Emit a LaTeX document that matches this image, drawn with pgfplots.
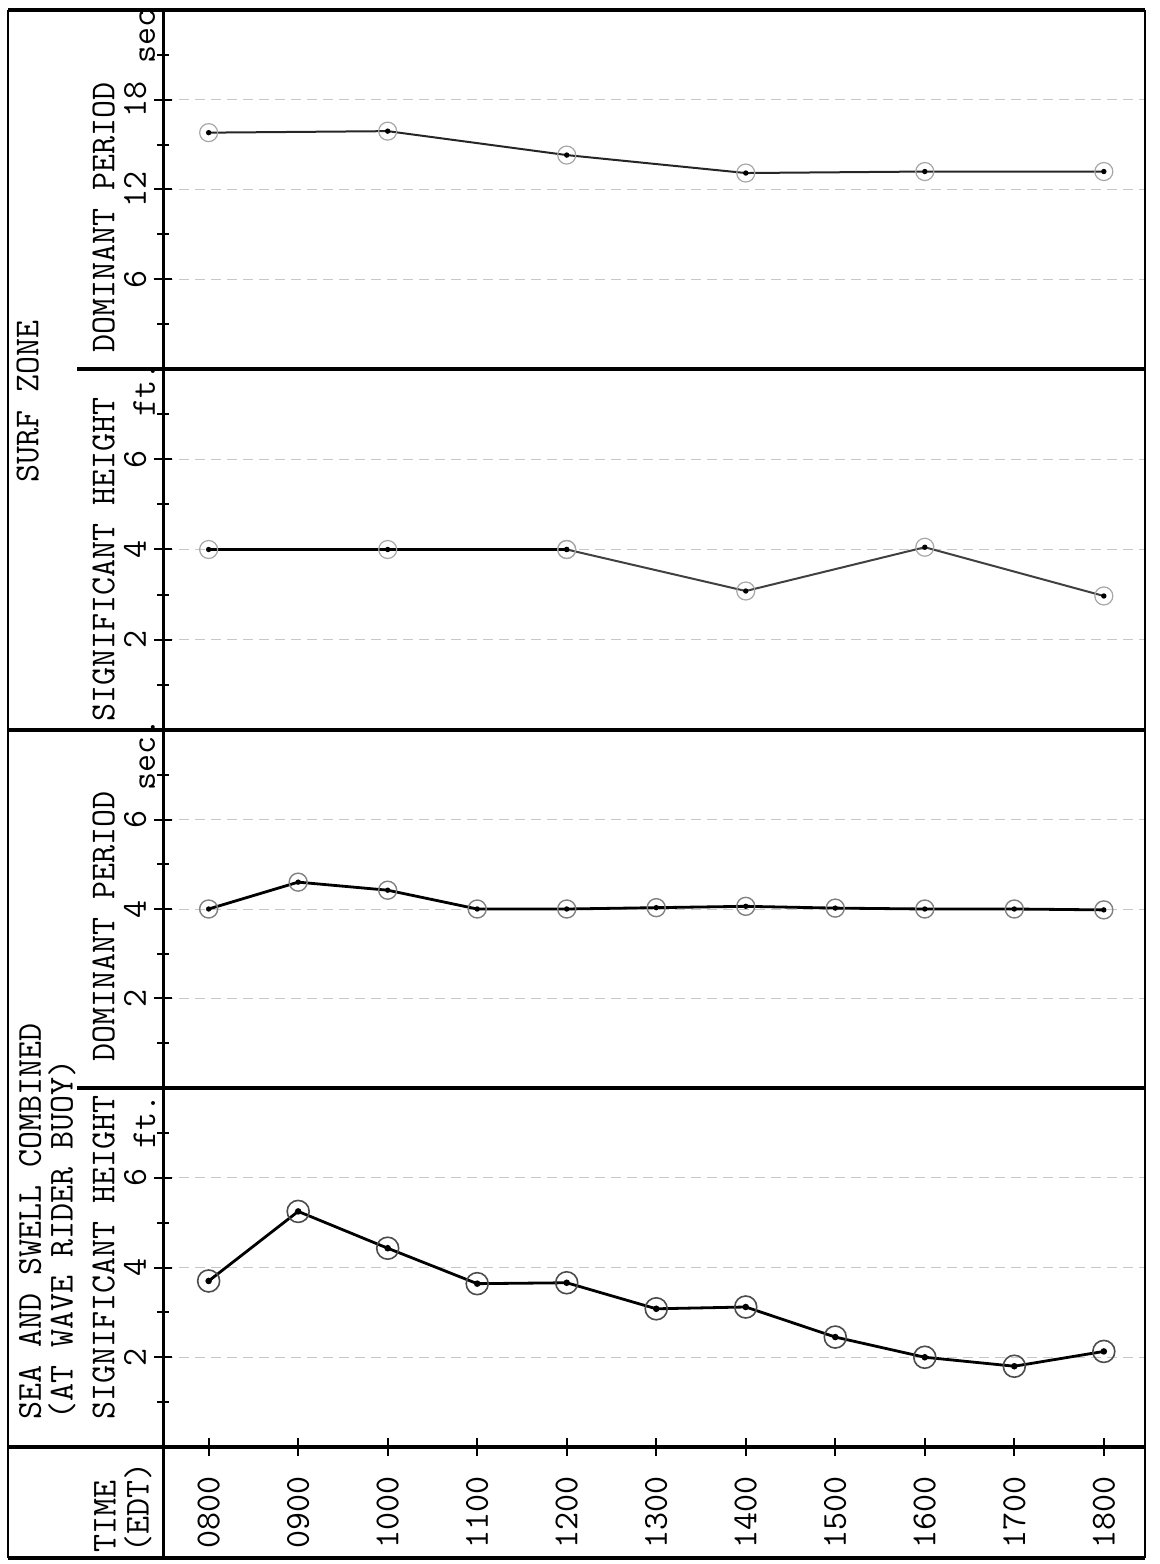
\documentclass[border=0pt]{standalone}
\usepackage{fontspec}
\usepackage{pgfplots}
\pgfplotsset{compat=1.18}

% typewriter face used for every label
\newcommand{\tw}{\fontsize{17.5}{20}\selectfont\ttfamily\addfontfeatures{FakeBold=1.2}}

% open circle with a dot in the middle
\pgfdeclareplotmark{ring}{%
  \pgfpathcircle{\pgfpointorigin}{\pgfplotmarksize}%
  \pgfusepathqstroke
  \pgfpathcircle{\pgfpointorigin}{0.3\pgfplotmarksize}%
  \pgfusepathqfill}

\pgfplotsset{
  panel/.style={
    scale only axis, width=491pt,
    xmin=7.49, xmax=18.46, ymin=0,
    axis y line*=left,
    axis line style={line width=1.5pt},
    tick align=center, major tick length=9pt, minor tick length=6pt,
    every tick/.style={black, line width=1pt},
    /pgf/number format/assume math mode=true,
    tick label style={font=\tw},
    yticklabel style={rotate=90, anchor=base, inner sep=0pt},
    yticklabel shift=4pt,
    ylabel style={font=\tw, anchor=base west, inner sep=0pt},
    ymajorgrids,
    major grid style={black!22, dash pattern=on 5pt off 3pt, line width=0.5pt},
    extra y tick style={major tick length=0pt, grid=none},
    clip=false,
  },
}

\begin{document}
\begin{tikzpicture}
\useasboundingbox (0pt,0pt) rectangle (580pt,782pt);

% surf zone, dominant period
\begin{axis}[panel, axis x line=none, at={(81.5pt,597.5pt)}, anchor=south west, height=179.5pt,
  ymax=24, ytick={6,12,18}, minor ytick={3,9,15,21},
  extra y ticks={22.2}, extra y tick labels={sec},
  ylabel={DOMINANT PERIOD},
  ylabel style={at={(axis description cs:-0.0494,0.045)}}]
\addplot[black!85, line width=1pt, mark=ring, mark size=4.5pt,
  mark options={draw=black!35, fill=black, line width=0.6pt}]
  coordinates {(8,15.8)(10,15.9)(12,14.3)(14,13.1)(16,13.2)(18,13.2)};
\end{axis}

% surf zone, significant height
\begin{axis}[panel, axis x line=none, at={(81.5pt,417pt)}, anchor=south west, height=180.5pt,
  ymax=8, ytick={2,4,6}, minor ytick={1,3,5,7},
  extra y ticks={7.55}, extra y tick labels={ft.},
  ylabel={SIGNIFICANT HEIGHT},
  ylabel style={at={(axis description cs:-0.0494,0.022)}}]
\addplot[black, line width=1.6pt, mark=ring, mark size=4.5pt,
  mark options={draw=black!35, fill=black, line width=0.6pt}]
  coordinates {(8,4.0)(10,4.0)(12,4.0)};
\addplot[black!75, line width=1pt, mark=ring, mark size=4.5pt,
  mark options={draw=black!35, fill=black, line width=0.6pt}]
  coordinates {(12,4.0)(14,3.08)(16,4.05)(18,2.97)};
\end{axis}

% sea and swell, dominant period
\begin{axis}[panel, axis x line=none, at={(81.5pt,238pt)}, anchor=south west, height=179pt,
  ymax=8, ytick={2,4,6}, minor ytick={1,3,5,7},
  extra y ticks={7.45}, extra y tick labels={sec.},
  ylabel={DOMINANT PERIOD},
  ylabel style={at={(axis description cs:-0.0494,0.073)}}]
\addplot[black, line width=1.4pt, mark=ring, mark size=4.5pt,
  mark options={draw=black!50, fill=black, line width=0.7pt}]
  coordinates {(8,4.0)(9,4.6)(10,4.42)(11,4.0)(12,4.0)(13,4.03)(14,4.06)
               (15,4.02)(16,4.0)(17,4.0)(18,3.98)};
\end{axis}

% sea and swell, significant height, with the time axis
\begin{axis}[panel, at={(81.5pt,58.5pt)}, anchor=south west, height=179.5pt,
  ymax=8, ytick={2,4,6}, minor ytick={1,3,5,7},
  extra y ticks={7.25}, extra y tick labels={ft.},
  axis x line*=bottom,
  xtick={8,...,18},
  xticklabels={0800,0900,1000,1100,1200,1300,1400,1500,1600,1700,1800},
  xticklabel style={rotate=90, anchor=east, inner sep=0pt},
  xticklabel shift=10pt,
  ylabel={SIGNIFICANT HEIGHT},
  ylabel style={at={(axis description cs:-0.0494,0.075)}}]
\addplot[black, line width=1.4pt, mark=ring, mark size=5.5pt,
  mark options={draw=black!70, fill=black, line width=0.8pt}]
  coordinates {(8,3.7)(9,5.25)(10,4.43)(11,3.64)(12,3.66)(13,3.08)(14,3.12)
               (15,2.45)(16,2.0)(17,1.8)(18,2.13)};
\end{axis}

% frame of the form
\draw[line width=0.8pt] (4pt,777pt) -- (4pt,3pt);
\draw[line width=0.8pt] (572.5pt,777pt) -- (572.5pt,3pt);
\draw[line width=1.6pt] (4pt,777pt) -- (572.5pt,777pt);
\draw[line width=1.6pt] (4pt,3pt) -- (572.5pt,3pt);
\draw[line width=2pt] (38.5pt,597.5pt) -- (572.5pt,597.5pt);
\draw[line width=2pt] (4pt,417pt) -- (572.5pt,417pt);
\draw[line width=2pt] (38.5pt,238pt) -- (572.5pt,238pt);
\draw[line width=2pt] (4pt,58.5pt) -- (572.5pt,58.5pt);
\draw[line width=1.5pt] (81.5pt,777pt) -- (81.5pt,3pt);

% headings in the left column
\begin{scope}[every node/.style={font=\tw, rotate=90, anchor=base west, inner sep=0pt}]
\node at (19.25pt,540.5pt) {SURF ZONE};
\node at (20.5pt,72pt) {SEA AND SWELL COMBINED};
\node at (36.25pt,72pt) {(AT WAVE RIDER BUOY)};
\node at (57.75pt,5.5pt) {TIME};
\node at (74.25pt,5.5pt) {(EDT)};
\end{scope}
\end{tikzpicture}
\end{document}
